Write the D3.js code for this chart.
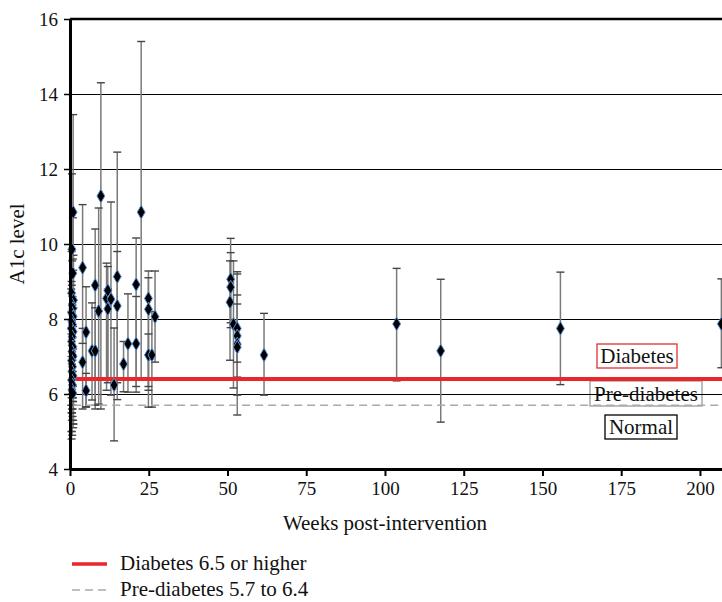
<!DOCTYPE html>
<html lang="en">
<head>
    <meta charset="UTF-8">
    <title>A1c level by week</title>
    <script src="https://d3js.org/d3.v7.min.js"></script>
    <style>
        body{
            margin: 0;
            background: white;
        }
        svg text{
            font-family: "Liberation Serif", "DejaVu Serif", serif;
            fill: #111;
        }
        .grid line{
            stroke: black;
            stroke-width: 1px;
            shape-rendering: crispEdges;
        }
    </style>
</head>
<body>
<svg id="canvas" width="722" height="602"></svg>
<script>
    // values
    let weeks = [1.0, 0.6, 0.9, 0.5, 1.1, 0.7, 0.9, 0.5, 1.0, 0.6, 0.8, 0.4, 1.0, 0.7, 0.5, 0.9, 0.6, 1.0, 0.5, 0.8, 0.6, 1.0, 0.5, 0.8, 0.6, 0.9,
        4.0, 4.0, 5.1, 5.1, 7.0, 8.0, 8.0, 9.1, 9.8, 11.6, 12.0, 12.0, 13.0, 14.0, 15.0, 15.0, 17.0, 18.4, 21.0, 21.0, 22.6,
        24.9, 24.9, 24.9, 26.0, 27.0,
        51.0, 51.0, 50.8, 51.9, 53.1, 53.1, 53.1, 53.1, 61.6,
        103.7, 117.7, 155.7, 206.8]
    let a1c = [10.85, 9.86, 9.22, 8.69, 8.50, 8.37, 8.28, 8.17, 8.06, 7.95, 7.85, 7.75, 7.66, 7.53, 7.40, 7.26, 7.13, 7.01, 6.89, 6.73, 6.60, 6.48, 6.37, 6.24, 6.11, 6.02,
        9.37, 6.85, 7.65, 6.09, 7.15, 8.90, 7.15, 8.21, 11.28, 8.55, 8.76, 8.27, 8.53, 6.24, 9.13, 8.35, 6.80, 7.34, 8.92, 7.34, 10.85,
        8.55, 8.26, 7.04, 7.04, 8.06,
        9.06, 8.85, 8.45, 7.86, 7.75, 7.55, 7.33, 7.25, 7.04,
        7.87, 7.15, 7.75, 7.87]
    let ciLow = [8.3, 6.9, 6.2, 5.5, 5.2, 4.9, 5.9, 5.0, 5.3, 6.0, 5.4, 5.7, 5.1, 5.6, 4.8, 5.8, 5.5, 5.2, 5.9, 5.6, 5.3, 5.8, 5.0, 5.7, 5.5, 5.9,
        7.35, 5.6, 5.66, 5.65, 5.84, 5.6, 5.7, 5.73, 5.6, 6.1, 6.3, 6.4, 5.97, 4.75, 5.85, 6.3, 6.06, 6.05, 6.05, 6.2, 6.37,
        6.2, 6.1, 5.65, 5.65, 6.85,
        7.77, 7.9, 6.9, 6.16, 5.97, 5.44, 6.85, 6.45, 5.97,
        6.35, 5.25, 6.25, 6.7]
    let ciHigh = [13.45, 11.87, 10.7, 9.8, 9.7, 9.55, 9.6, 9.0, 9.3, 8.9, 8.6, 8.8, 8.3, 8.4, 8.2, 8.1, 7.9, 7.8, 7.6, 7.5, 7.3, 7.2, 7.0, 6.9, 6.8, 6.6,
        11.05, 7.75, 8.86, 6.55, 8.43, 10.4, 8.3, 10.96, 14.3, 9.49, 9.4, 8.8, 11.12, 7.76, 12.45, 9.8, 7.4, 8.67, 10.16, 8.6, 15.4,
        9.28, 9.1, 7.6, 8.2, 9.28,
        10.15, 9.77, 9.55, 9.55, 9.26, 9.2, 8.64, 8.4, 8.15,
        9.35, 9.06, 9.25, 9.07]
    let xTicks = [0, 25, 50, 75, 100, 125, 150, 175, 200]
    let yTicks = [4, 6, 8, 10, 12, 14, 16]
    let diabetesCut = 6.4
    let prediabetesCut = 5.7
    let legendLabels = ["Diabetes 6.5 or higher", "Pre-diabetes 5.7 to 6.4"]
    let zoneLabels = ["Diabetes", "Pre-diabetes", "Normal"]

    let svg = d3.select('svg')
    let mLeft = 70, mRight = 722, mTop = 19, mBottom = 469

    let x = d3.scaleLinear().domain([0, 207]).range([mLeft, mRight])
    let y = d3.scaleLinear().domain([4, 16]).range([mBottom, mTop])

    let data = weeks.map(function (w, i){
        return {week: w, value: a1c[i], lo: ciLow[i], hi: ciHigh[i]}
    })

    // zone boxes (under the grid, grid line runs through "Pre-diabetes")
    let zoneBoxes = [
        {cx: 637, cy: 356, w: 80, h: 24, stroke: "#e03030"},
        {cx: 646, cy: 393.5, w: 112, h: 25, stroke: "#9a9a9a"},
        {cx: 641, cy: 427, w: 72, h: 24, stroke: "black"}
    ]
    let zones = svg.append('g')
    zoneBoxes.forEach(function (b, i){
        zones.append('rect')
            .attr("x", b.cx - b.w / 2).attr("y", b.cy - b.h / 2)
            .attr("width", b.w).attr("height", b.h)
            .attr("fill", "white")
            .attr("stroke", b.stroke)
            .attr("stroke-width", 1.3)
        zones.append('text')
            .attr("x", b.cx).attr("y", b.cy + 7)
            .attr("text-anchor", "middle")
            .style("font-size", "21px")
            .text(zoneLabels[i])
    })

    // horizontal grid
    svg.append('g')
        .attr("class", "grid")
        .selectAll('line')
        .data(yTicks.filter(function (t){ return t > 4 && t < 16 }))
        .enter()
        .append('line')
        .attr("x1", mLeft).attr("x2", mRight)
        .attr("y1", function (d){ return y(d) }).attr("y2", function (d){ return y(d) })

    // top border
    svg.append('line')
        .attr("x1", mLeft).attr("x2", mRight)
        .attr("y1", y(16)).attr("y2", y(16))
        .attr("stroke", "black").attr("stroke-width", 2.5)

    // error bars
    let bars = svg.append('g')
    bars.selectAll('line.stem')
        .data(data)
        .enter()
        .append('line')
        .attr("class", "stem")
        .attr("x1", function (d){ return x(d.week) }).attr("x2", function (d){ return x(d.week) })
        .attr("y1", function (d){ return y(d.lo) }).attr("y2", function (d){ return y(d.hi) })
        .attr("stroke", "#7a7a7a").attr("stroke-width", 1.5)
    let caps = []
    data.forEach(function (d){
        caps.push({week: d.week, v: d.lo})
        caps.push({week: d.week, v: d.hi})
    })
    bars.selectAll('line.cap')
        .data(caps)
        .enter()
        .append('line')
        .attr("class", "cap")
        .attr("x1", function (d){ return x(d.week) - 4 }).attr("x2", function (d){ return x(d.week) + 4 })
        .attr("y1", function (d){ return y(d.v) }).attr("y2", function (d){ return y(d.v) })
        .attr("stroke", "#444").attr("stroke-width", 1.4)

    // threshold lines
    svg.append('line')
        .attr("x1", x(1)).attr("x2", mRight)
        .attr("y1", y(prediabetesCut)).attr("y2", y(prediabetesCut))
        .attr("stroke", "#aaaaaa").attr("stroke-width", 1.5)
        .attr("stroke-dasharray", "8,5")
    svg.append('line')
        .attr("x1", x(1)).attr("x2", mRight)
        .attr("y1", y(diabetesCut)).attr("y2", y(diabetesCut))
        .attr("stroke", "#e8262b").attr("stroke-width", 4)

    // points
    svg.append('g')
        .selectAll('path')
        .data(data)
        .enter()
        .append('path')
        .attr("d", d3.symbol(d3.symbolDiamond, 54))
        .attr("transform", function (d){ return "translate(" + x(d.week) + "," + y(d.value) + ")" })
        .attr("fill", "black")
        .attr("stroke", "#5b8fd0")
        .attr("stroke-width", 1)

    // axes
    let xAxis = svg.append('g')
        .attr("transform", "translate(0," + mBottom + ")")
        .call(d3.axisBottom(x).tickValues(xTicks).tickSize(7).tickSizeOuter(0).tickPadding(6))
    xAxis.select('.domain').attr("stroke-width", 3)
    xAxis.selectAll('.tick line').attr("stroke-width", 2)
    xAxis.selectAll('text').style("font-size", "19px")

    let yAxis = svg.append('g')
        .attr("transform", "translate(" + mLeft + ",0)")
        .call(d3.axisLeft(y).tickValues(yTicks).tickSize(6).tickSizeOuter(0).tickPadding(6))
    yAxis.select('.domain').attr("stroke-width", 3)
    yAxis.selectAll('.tick line').attr("stroke-width", 1.5)
    yAxis.selectAll('text').style("font-size", "19px")

    svg.append('text')
        .attr("transform", "translate(24," + (mTop + mBottom) / 2 + ") rotate(-90)")
        .attr("text-anchor", "middle")
        .style("font-size", "21px")
        .text("A1c level")

    svg.append('text')
        .attr("x", 385).attr("y", 530)
        .attr("text-anchor", "middle")
        .style("font-size", "21px")
        .text("Weeks post-intervention")

    // legend
    let legend = svg.append('g')
    legend.append('line')
        .attr("x1", 72).attr("x2", 107).attr("y1", 564).attr("y2", 564)
        .attr("stroke", "#e8262b").attr("stroke-width", 3.5)
    legend.append('line')
        .attr("x1", 72).attr("x2", 107).attr("y1", 590).attr("y2", 590)
        .attr("stroke", "#aaaaaa").attr("stroke-width", 1.5).attr("stroke-dasharray", "8,5")
    legend.selectAll('text')
        .data(legendLabels)
        .enter()
        .append('text')
        .attr("x", 120)
        .attr("y", function (d, i){ return 570 + i * 26 })
        .style("font-size", "21px")
        .text(function (d){ return d })
</script>
</body>
</html>
